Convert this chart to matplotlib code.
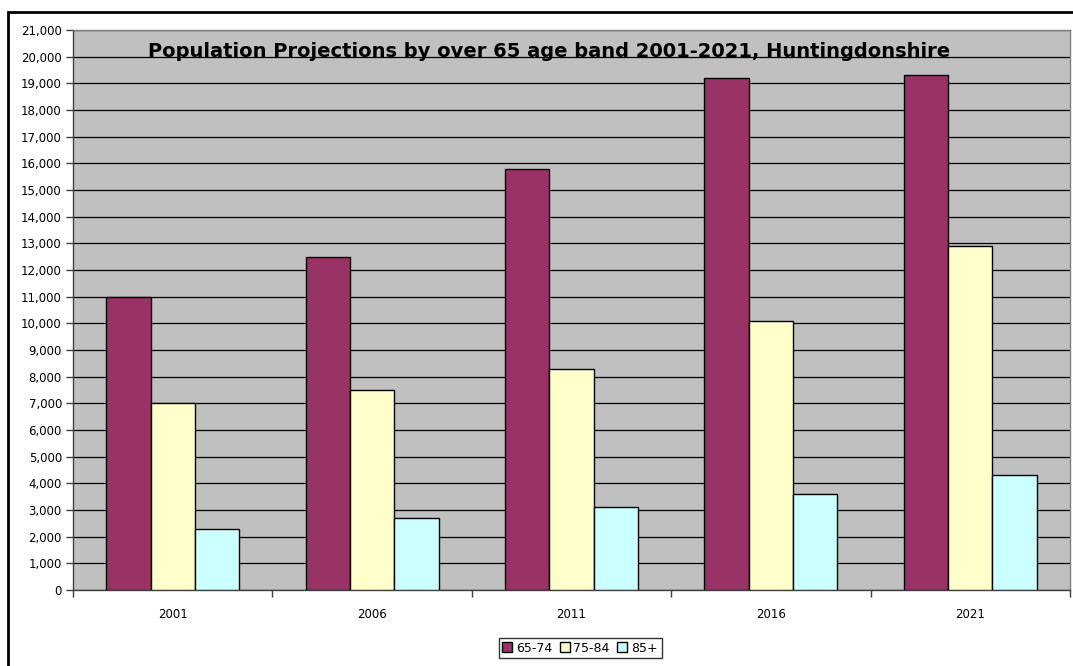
import matplotlib
matplotlib.use("Agg")
import matplotlib.pyplot as plt
from matplotlib.patches import Rectangle
from matplotlib.ticker import FuncFormatter, MultipleLocator, FixedLocator
import numpy as np

plt.rcParams["font.family"] = ["DejaVu Sans"]

years = ["2001", "2006", "2011", "2016", "2021"]
age_65_74 = [11000, 12500, 15800, 19200, 19300]
age_75_84 = [7000, 7500, 8300, 10100, 12900]
age_85_plus = [2300, 2700, 3100, 3600, 4300]
series = [("65-74", age_65_74, "#993366"),
          ("75-84", age_75_84, "#FFFFCC"),
          ("85+", age_85_plus, "#CCFFFF")]

W, H = 1073, 666
fig = plt.figure(figsize=(W / 100, H / 100), dpi=100)
ax = fig.add_axes([73 / W, 1 - 590 / H, (1070 - 73) / W, (590 - 30) / H])
ax.set_facecolor("#C0C0C0")

x = np.arange(len(years))
bw = 1 / 4.5
for i, (name, vals, col) in enumerate(series):
    ax.bar(x + (i - 1) * bw, vals, width=bw, color=col, edgecolor="black",
           linewidth=1.0, label=name, zorder=3)

ax.set_xlim(-0.5, len(years) - 0.5)
ax.set_ylim(0, 21000)
ax.yaxis.set_major_locator(MultipleLocator(1000))
ax.yaxis.set_major_formatter(FuncFormatter(lambda v, p: f"{int(v):,}"))
ax.grid(axis="y", color="black", lw=0.9, zorder=1)
ax.set_axisbelow(True)

ax.set_xticks(x)
ax.set_xticklabels(years)
ax.xaxis.set_minor_locator(FixedLocator(np.arange(-0.5, len(years), 1.0)))
ax.tick_params(axis="x", which="major", length=0, pad=13, labelsize=8.5)
ax.tick_params(axis="x", which="minor", length=5, width=1, color="#404040")
ax.tick_params(axis="y", length=5, width=1, color="#404040", labelsize=8.5, pad=3)

for s in ("top", "right"):
    ax.spines[s].set_color("#808080")
    ax.spines[s].set_linewidth(1)
for s in ("left", "bottom"):
    ax.spines[s].set_color("#404040")
    ax.spines[s].set_linewidth(1)

fig.text(549 / W, 1 - 57 / H,
         "Population Projections by over 65 age band 2001-2021, Huntingdonshire",
         ha="center", va="baseline", fontsize=14, fontweight="bold")

leg = fig.legend(loc="center", bbox_to_anchor=(580 / W, 1 - 648 / H), ncol=3,
                 fontsize=9, frameon=True, fancybox=False, handlelength=0.8,
                 handleheight=0.8, handletextpad=0.3, columnspacing=0.6,
                 borderpad=0.3, borderaxespad=0)
leg.get_frame().set_edgecolor("black")
leg.get_frame().set_linewidth(1)

# outer chart frame (runs off the right and bottom of the picture)
fig.patches.append(Rectangle((8 / W, -0.1), 1.2, 1 - 12 / H + 0.1,
                             transform=fig.transFigure, fill=False,
                             edgecolor="black", lw=2))

fig.savefig("out.png", dpi=100)
